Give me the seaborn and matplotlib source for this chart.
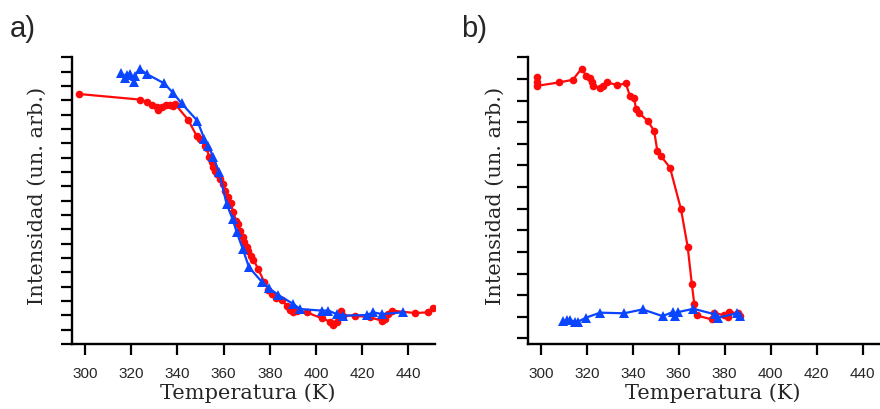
import matplotlib
matplotlib.use("Agg")
import matplotlib.pyplot as plt
import seaborn as sns
import numpy as np

# ---- data: panel a (tick units on y) ----
a_red_T = [297.4, 323.8, 326.7, 328.9, 331.0, 331.7, 333.2, 335.1, 336.8, 338.2, 339.0,
           344.7, 348.3, 349.8, 351.9, 352.7, 353.8, 354.8, 355.6, 356.3, 357.0, 358.4,
           359.9, 360.6, 362.0, 363.1, 364.2, 365.4, 366.4, 367.1, 368.3, 369.0, 370.0,
           370.7, 371.7, 372.9, 375.0, 377.5, 379.4, 380.8, 382.7, 385.1, 387.3, 388.7,
           390.2, 391.9, 396.0, 402.5, 406.1, 407.2, 408.9, 410.7, 411.8, 416.9, 423.4,
           428.4, 429.9, 431.3, 432.8, 442.9, 448.6, 450.8]
a_red_I = [17.44, 17.05, 16.90, 16.70, 16.50, 16.35, 16.56, 16.67, 16.70, 16.63, 16.74,
           15.63, 14.53, 14.30, 13.79, 13.65, 13.02, 12.67, 12.33, 12.10, 11.86, 11.51,
           11.16, 10.70, 10.23, 9.84, 9.19, 8.60, 8.37, 7.90, 7.44, 7.09, 6.74,
           6.51, 6.16, 5.88, 5.23, 4.35, 3.79, 3.49, 3.19, 3.09, 2.67, 2.40,
           2.26, 2.33, 2.21, 1.79, 1.56, 1.33, 1.56, 2.33, 1.98, 1.98, 1.86,
           1.63, 1.74, 2.09, 2.33, 2.16, 2.21, 2.49]
a_blue_T = [315.6, 317.3, 318.0, 319.5, 321.2, 321.6, 323.8, 326.7, 334.2, 338.2, 341.8,
            348.6, 351.7, 353.4, 355.6, 358.0, 361.3, 363.9, 365.7, 368.3, 371.0, 376.5,
            379.8, 383.7, 390.2, 393.1, 402.5, 405.3, 408.9, 411.8, 421.9, 424.8, 428.4,
            437.8]
a_blue_I = [18.88, 18.53, 18.77, 18.84, 18.30, 18.72, 19.19, 18.84, 18.19, 17.51, 16.79,
            15.58, 14.30, 13.84, 13.02, 12.02, 9.77, 8.72, 7.79, 6.63, 5.35, 4.35,
            3.88, 3.42, 2.79, 2.44, 2.33, 2.33, 2.09, 1.98, 2.02, 2.21, 2.09,
            2.21]

# ---- data: panel b ----
b_red_T = [298.3, 298.3, 298.3, 308.1, 313.9, 317.8, 319.7, 321.2, 322.2, 322.6, 325.8,
           327.2, 329.0, 333.3, 337.0, 338.8, 340.6, 341.4, 342.8, 346.5, 349.3, 350.7,
           352.2, 356.2, 361.0, 363.9, 365.7, 366.8, 367.8, 374.3, 375.5, 379.7, 381.6,
           382.0, 386.0, 386.7]
b_red_I = [12.07, 11.84, 11.68, 11.84, 11.96, 12.48, 12.15, 12.02, 11.84, 11.68, 11.60,
           11.68, 11.84, 11.71, 11.80, 11.19, 11.10, 10.63, 10.42, 10.06, 9.60, 8.67,
           8.44, 7.90, 5.97, 4.24, 2.53, 1.57, 1.06, 0.88, 1.19, 1.06, 1.00,
           1.22, 1.16, 1.03]
b_blue_T = [309.6, 311.3, 312.8, 314.9, 316.1, 319.7, 325.8, 336.2, 344.3, 353.0, 357.4,
            358.4, 359.9, 366.4, 375.8, 377.2, 385.2, 386.7]
b_blue_I = [0.80, 0.85, 0.85, 0.77, 0.77, 0.96, 1.19, 1.16, 1.34, 1.03, 1.22,
            1.03, 1.22, 1.37, 1.11, 0.96, 1.16, 1.03]

x_ticks = [300, 320, 340, 360, 380, 400, 420, 440]
x_label = "Temperatura (K)"
y_label = "Intensidad (un. arb.)"
panel_labels = ["a)", "b)"]

RED = "#ff0a0a"
BLUE = "#0a45ff"

sns.set_style("ticks")
plt.rcParams["font.family"] = ["Liberation Sans", "DejaVu Sans"]

fig = plt.figure(figsize=(8.8, 4.1), dpi=100)
W, H = 880.0, 410.0
ax_a = fig.add_axes([72 / W, (H - 345) / H, (435 - 72) / W, (345 - 58.3) / H])
ax_b = fig.add_axes([527.5 / W, (H - 345) / H, (897 - 527.5) / W, (345 - 58.3) / H])

def draw(ax, rT, rI, bT, bI):
    sns.lineplot(x=rT, y=rI, ax=ax, color=RED, marker="o", markersize=5.5,
                 markeredgewidth=0, linewidth=1.6, sort=False, estimator=None)
    sns.lineplot(x=bT, y=bI, ax=ax, color=BLUE, marker="^", markersize=6.5,
                 markeredgewidth=0, linewidth=1.6, sort=False, estimator=None)

draw(ax_a, a_red_T, a_red_I, a_blue_T, a_blue_I)
draw(ax_b, b_red_T, b_red_I, b_blue_T, b_blue_I)

ax_a.set_xlim(294.4, 451.5)
ax_a.set_ylim(0, 20)
ax_a.set_yticks(np.arange(0, 21, 1))
ax_b.set_xlim(294.2, 455.0)
ax_b.set_ylim(-0.26, 13)
ax_b.set_yticks(np.arange(0, 14, 1))

serif = ["DejaVu Serif"]
for ax, lab, lx, ylx in [(ax_a, panel_labels[0], 10, -0.096), (ax_b, panel_labels[1], 461, -0.087)]:
    ax.set_xticks(x_ticks)
    ax.set_yticklabels([])
    ax.tick_params(axis="both", direction="out", length=8, width=1.6, color="black")
    ax.tick_params(axis="x", labelsize=11, pad=7.5)
    for s in ["left", "bottom"]:
        ax.spines[s].set_linewidth(1.7)
        ax.spines[s].set_color("black")
    for s in ["top", "right"]:
        ax.spines[s].set_visible(False)
    ax.set_xlabel(x_label, fontsize=15, family=serif)
    ax.set_ylabel(y_label, fontsize=15, family=serif)
    ax.yaxis.set_label_coords(ylx, 0.52)
    fig.text(lx / W, 1 - 37 / H, lab, fontsize=21, ha="left", va="baseline")

ax_a.xaxis.set_label_coords(0.483, -0.167)
ax_b.xaxis.set_label_coords(0.5, -0.167)
for ax in (ax_a, ax_b):
    ax.xaxis.label.set_va("center")
    ax.yaxis.label.set_va("center")

fig.savefig("out.png", dpi=100)
